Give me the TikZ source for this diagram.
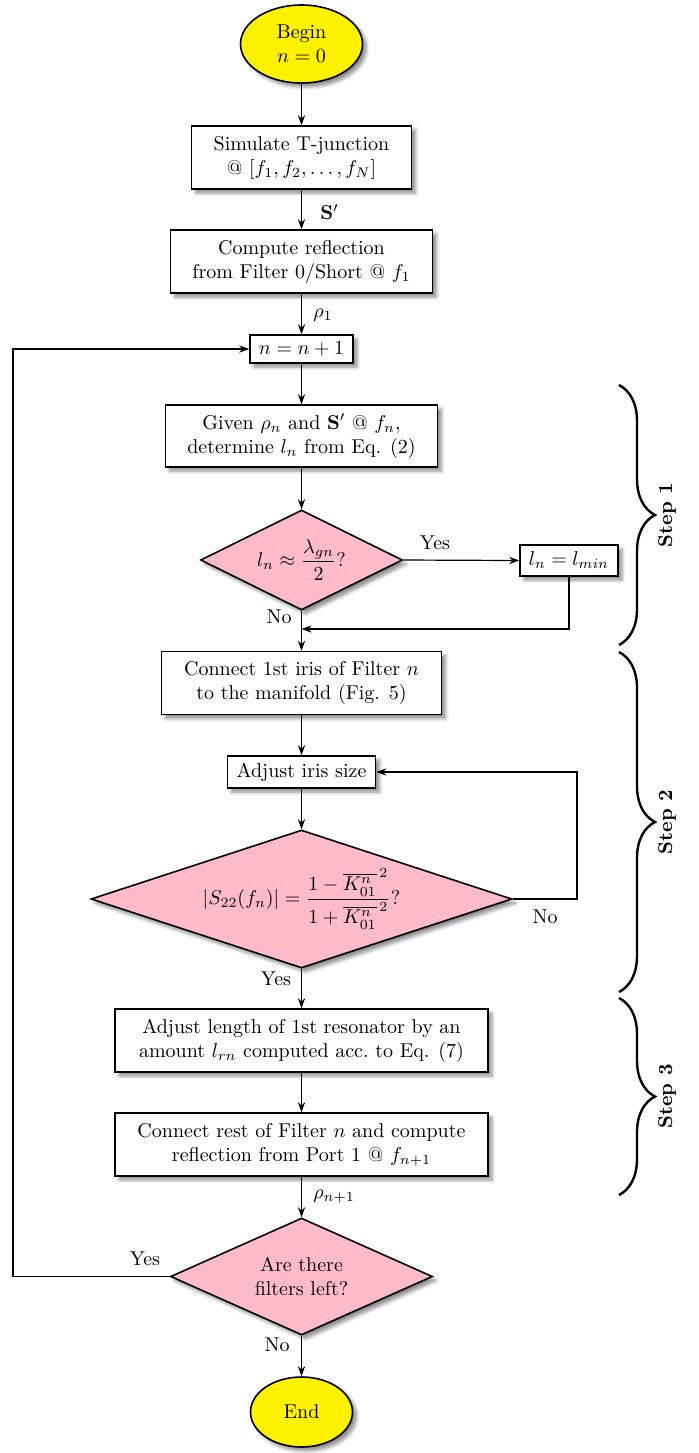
\documentclass[tikz,border=0pt]{standalone}
\usepackage{amsmath}
\usetikzlibrary{shapes.geometric,arrows.meta,decorations.pathreplacing,shadows,shadows.blur}
\definecolor{dpink}{HTML}{FFBBC9}
\definecolor{dyellow}{HTML}{FFF200}
\tikzset{
  shd/.style={blur shadow={shadow xshift=2pt,shadow yshift=-2pt,shadow blur steps=6,shadow opacity=45}},
  procbox/.style={rectangle,draw,thick,fill=white,align=center,inner sep=2pt,shd},
  termbox/.style={ellipse,draw,thick,fill=dyellow,align=center,inner sep=0pt,shd},
  decbox/.style={diamond,draw,thick,fill=dpink,align=center,inner sep=0pt,shd},
  conn/.style={-{Stealth[length=5pt,width=3.6pt]},semithick},
  bracestyle/.style={decorate,decoration={brace,amplitude=18pt},very thick},
  lbl/.style={inner sep=0pt},
  steplbl/.style={rotate=90,font=\bfseries,inner sep=0pt}
}
\begin{document}
\begin{tikzpicture}[x=0.5pt,y=-0.5pt]
\useasboundingbox (0,0) rectangle (699,1453);
% nodes
\node[termbox,minimum width=61pt,minimum height=39pt] (begin) at (301.5,44) {Begin\\ $n=0$};
\node[procbox,minimum width=110pt,minimum height=31.5pt] (sim) at (301.5,157.5) {Simulate T-junction\\ @ $[f_1, f_2, \ldots, f_N]$};
\node[procbox,minimum width=131pt,minimum height=31.5pt] (comp) at (301.5,261.5) {Compute reflection\\ from Filter 0/Short @ $f_1$};
\node[procbox,minimum width=51.5pt,minimum height=14pt,inner sep=1pt] (inc) at (301.5,349) {$n=n+1$};
\node[procbox,minimum width=136pt,minimum height=31pt] (given) at (301.5,436) {Given $\rho_n$ and $\mathbf{S}'$ @ $f_n$,\\ determine $l_n$ from Eq. (2)};
\node[decbox,aspect=2.02,minimum width=101pt,minimum height=50pt] (d1) at (301.5,560) {$l_n \approx \dfrac{\lambda_{gn}}{2}$?};
\node[procbox,minimum width=49pt,minimum height=15.5pt,inner sep=1pt] (lmin) at (569,560.5) {$l_n = l_{min}$};
\coordinate (merge) at (301.5,629);
\node[procbox,minimum width=140pt,minimum height=31.5pt] (conn1) at (301.5,683) {Connect 1st iris of Filter $n$\\ to the manifold (Fig. 5)};
\node[procbox,minimum width=74pt,minimum height=16pt,inner sep=1pt] (adj) at (301.5,772) {Adjust iris size};
\node[decbox,aspect=3.05,minimum width=210.5pt,minimum height=69pt] (d2) at (301.5,899) {$|S_{22}(f_n)| = \dfrac{1-\overline{K_{01}^n}^{\,2}}{1+\overline{K_{01}^n}^{\,2}}$?};
\coordinate (noloop) at (577,899);
\node[procbox,minimum width=186.5pt,minimum height=31.5pt] (len) at (301.5,1040.5) {Adjust length of 1st resonator by an\\ amount $l_{rn}$ computed acc.\ to Eq. (7)};
\node[procbox,minimum width=186.5pt,minimum height=31.5pt] (rest) at (301.5,1144.5) {Connect rest of Filter $n$ and compute\\ reflection from Port 1 @ $f_{n+1}$};
\node[decbox,aspect=2.24,minimum width=131pt,minimum height=58.5pt] (d3) at (301.5,1276.5) {Are there\\ filters left?};
\coordinate (yesloop) at (13,1276.5);
\node[termbox,minimum width=51pt,minimum height=35pt] (end) at (301.5,1412) {End};
% connectors
\draw[conn] (begin) -- (sim);
\draw[conn] (sim) -- (comp);
\draw[conn] (comp) -- (inc);
\draw[conn] (inc) -- (given);
\draw[conn] (given) -- (d1);
\draw[conn] (d1.east) -- (lmin.west);
\draw[conn] (lmin.south) |- (merge);
\draw[conn] (d1.south) -- (conn1.north);
\draw[conn] (conn1) -- (adj);
\draw[conn] (adj) -- (d2);
\draw[conn] (d2.east) -- (noloop) |- (adj.east);
\draw[conn] (d2.south) -- (len.north);
\draw[conn] (len) -- (rest);
\draw[conn] (rest) -- (d3);
\draw[conn] (d3.south) -- (end.north);
\draw[conn] (d3.west) -- (yesloop) |- (inc.west);
% labels
\node[lbl,anchor=west] (lS) at (320,212) {$\mathbf{S}'$};
\node[lbl,anchor=west] (lr1) at (313,315) {$\rho_1$};
\node[lbl,anchor=west] (lrn) at (313,1197) {$\rho_{n+1}$};
\node[lbl] (y1) at (435,543) {Yes};
\node[lbl] (n1) at (279,617) {No};
\node[lbl] (n2) at (545,917) {No};
\node[lbl] (y2) at (276,979) {Yes};
\node[lbl] (y3) at (145,1259) {Yes};
\node[lbl] (n3) at (277,1345) {No};
% braces
\draw[bracestyle] (619,385) -- (619,645);
\draw[bracestyle] (619,652) -- (619,992);
\draw[bracestyle] (619,998) -- (619,1195);
\node[steplbl] (s1) at (667,515) {Step 1};
\node[steplbl] (s2) at (667,822) {Step 2};
\node[steplbl] (s3) at (667,1096.5) {Step 3};
\end{tikzpicture}
\end{document}
